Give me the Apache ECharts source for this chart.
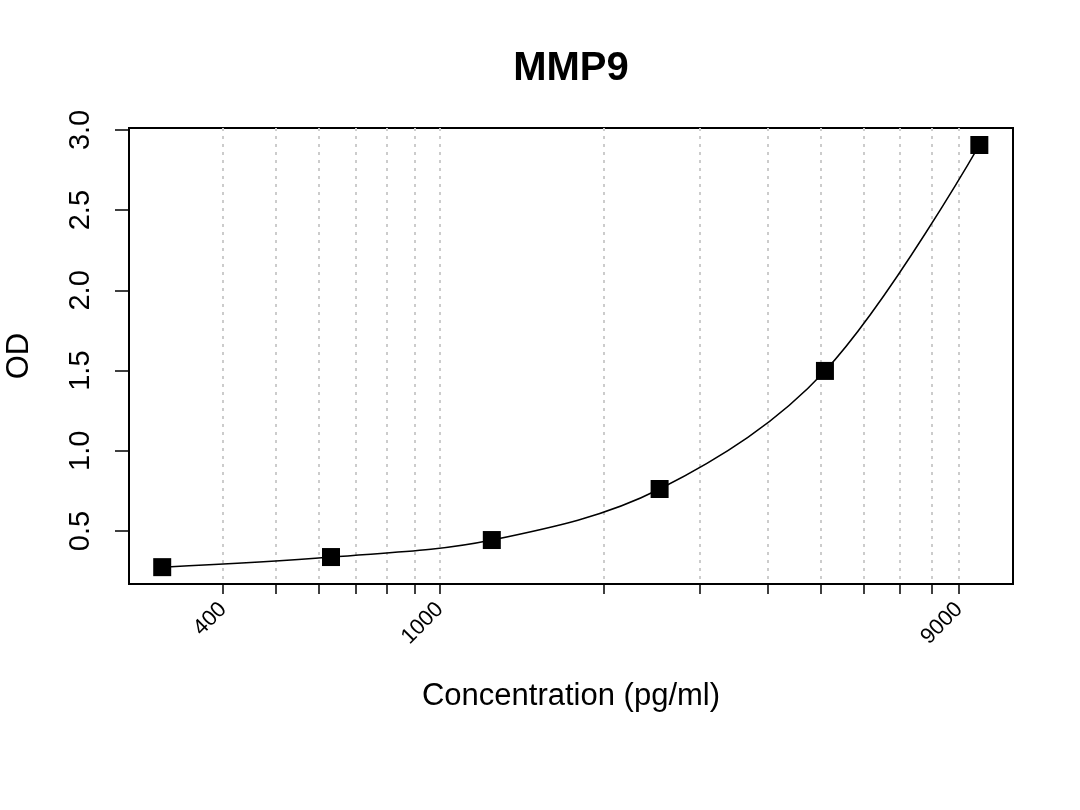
<!DOCTYPE html>
<html lang="en">
  <head>
    <meta charset="UTF-8" />
    <title>MMP9</title>
    <script src="https://cdn.jsdelivr.net/npm/echarts@6/dist/echarts.min.js"></script>
    <style>
      html, body { margin: 0; padding: 0; background: #fff; }
      #box { width: 1080px; height: 810px; }
    </style>
  </head>
  <body>
    <div id="box"></div>
    <script>
      // standard curve points
      var conc = [309, 631, 1246, 2534, 5100, 9800];
      var od = [0.275, 0.338, 0.444, 0.762, 1.498, 2.906];
      // axis ticks
      var xTicks = [400, 500, 600, 700, 800, 900, 1000, 2000, 3000, 4000, 5000, 6000, 7000, 8000, 9000];
      var xLabels = [400, 1000, 9000];
      var yTicks = [0.5, 1.0, 1.5, 2.0, 2.5, 3.0];

      var points = conc.map(function (c, i) {
        return [c, od[i]];
      });

      var myChart = echarts.init(document.getElementById("box"));
      var option = {
        animation: false,
        textStyle: { fontFamily: "Liberation Sans, Arial, sans-serif" },
        title: {
          text: "MMP9",
          left: 566, // padding adds 5px, centre lands on ~571
          textAlign: "center",
          top: 44,
          textStyle: { fontSize: 40, fontWeight: "bold", color: "#000" },
        },
        grid: {
          left: 129,
          right: 67,
          top: 128,
          bottom: 226,
          outerBoundsMode: "none",
          show: true,
          borderColor: "#000",
          borderWidth: 2,
        },
        xAxis: {
          type: "log",
          logBase: 10,
          min: 268.5,
          max: 11300,
          name: "Concentration (pg/ml)",
          nameLocation: "middle",
          nameGap: 97,
          nameTextStyle: { fontSize: 31, color: "#000" },
          axisLine: { show: false },
          axisTick: {
            customValues: xTicks,
            length: 10,
            lineStyle: { color: "#000", width: 1.5 },
          },
          axisLabel: {
            customValues: xLabels,
            rotate: 45,
            fontSize: 22,
            color: "#000",
            margin: 22,
            formatter: function (v) {
              return String(Math.round(v));
            },
          },
          splitLine: {
            show: true,
            lineStyle: { color: "#cccccc", type: [3, 5], width: 2 },
          },
        },
        yAxis: {
          type: "value",
          min: 0.17,
          max: 3.012,
          name: "OD",
          nameLocation: "middle",
          nameGap: 94,
          nameRotate: 90,
          nameTextStyle: { fontSize: 31, color: "#000" },
          axisLine: { show: false },
          axisTick: {
            customValues: yTicks,
            length: 14,
            lineStyle: { color: "#000", width: 1.5 },
          },
          axisLabel: {
            customValues: yTicks,
            rotate: 90,
            fontSize: 29,
            color: "#000",
            margin: 34,
            formatter: function (v) {
              return v.toFixed(1);
            },
          },
          splitLine: { show: false },
        },
        series: [
          {
            type: "line",
            data: points,
            smooth: 0.35,
            symbol: "rect",
            symbolSize: 18,
            itemStyle: { color: "#000" },
            lineStyle: { color: "#000", width: 1.5 },
          },
        ],
      };
      myChart.setOption(option);
    </script>
  </body>
</html>
